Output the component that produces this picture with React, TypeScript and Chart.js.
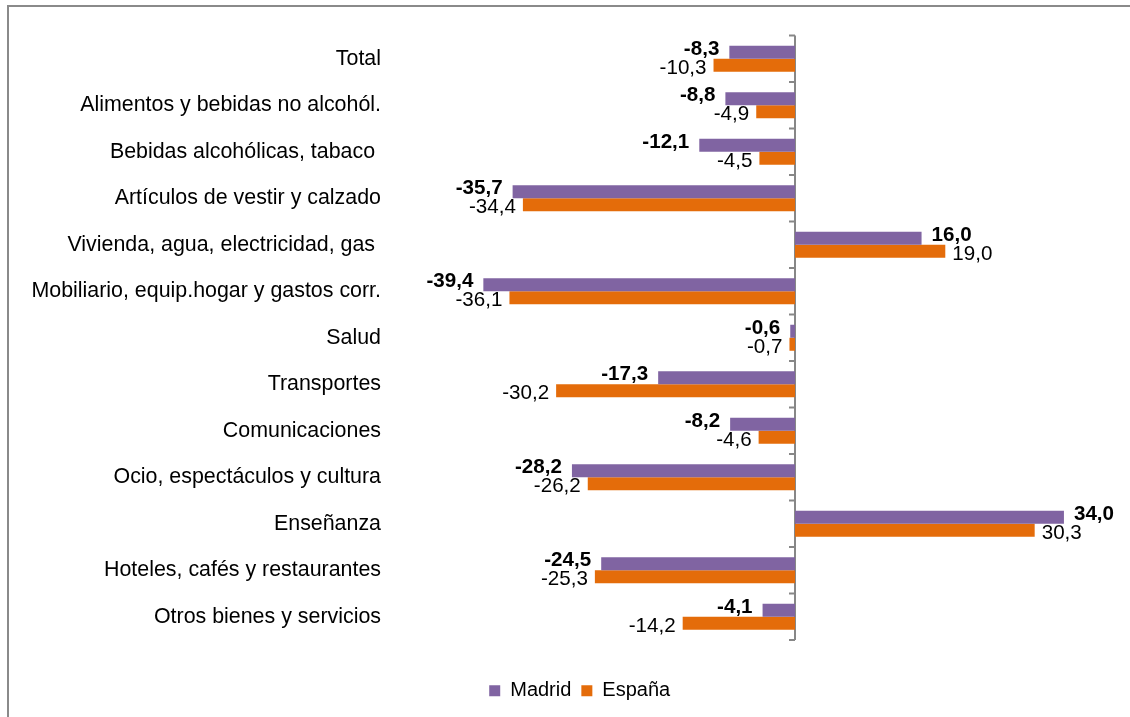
import React, { useEffect, useRef } from "react";
import { Chart, registerables } from "chart.js";

Chart.register(...registerables);

const categories = [
  "Total",
  "Alimentos y bebidas no alcohól.",
  "Bebidas alcohólicas, tabaco ",
  "Artículos de vestir y calzado",
  "Vivienda, agua, electricidad, gas ",
  "Mobiliario, equip.hogar y gastos corr.",
  "Salud",
  "Transportes",
  "Comunicaciones",
  "Ocio, espectáculos y cultura",
  "Enseñanza",
  "Hoteles, cafés y restaurantes",
  "Otros bienes y servicios",
];

const madrid = [-8.3, -8.8, -12.1, -35.7, 16.0, -39.4, -0.6, -17.3, -8.2, -28.2, 34.0, -24.5, -4.1];
const espana = [-10.3, -4.9, -4.5, -34.4, 19.0, -36.1, -0.7, -30.2, -4.6, -26.2, 30.3, -25.3, -14.2];

const seriesNames = ["Madrid", "España"];
const xMin = -50;
const xMax = 40;

const PURPLE = "#8064A2";
const ORANGE = "#E46C0A";
const AXIS_GRAY = "#878787";
const FONT = "'Liberation Sans', Arial, sans-serif";
const LABEL_SIZE = 20.6;
const CAT_SIZE = 21.4;

const fmt = (v: number) => v.toFixed(1).replace(".", ",");

const zeroAxisPlugin = {
  id: "zeroAxis",
  beforeDatasetsDraw(chart: any) {
    const { ctx, chartArea, scales } = chart;
    const x0 = scales.x.getPixelForValue(0);
    const yScale = scales.y;
    ctx.save();
    ctx.strokeStyle = AXIS_GRAY;
    ctx.lineWidth = 2;
    ctx.beginPath();
    ctx.moveTo(x0, chartArea.top);
    ctx.lineTo(x0, chartArea.bottom);
    for (let i = 0; i <= categories.length; i++) {
      const y = yScale.getPixelForValue(i - 0.5);
      ctx.moveTo(x0 - 6, y);
      ctx.lineTo(x0, y);
    }
    ctx.stroke();
    ctx.restore();
  },
};

const valueLabelPlugin = {
  id: "valueLabels",
  afterDatasetsDraw(chart: any) {
    const { ctx } = chart;
    ctx.save();
    chart.data.datasets.forEach((ds: any, di: number) => {
      const meta = chart.getDatasetMeta(di);
      const bold = di === 0;
      ctx.font = `${bold ? "bold " : ""}${LABEL_SIZE}px ${FONT}`;
      ctx.fillStyle = "#000";
      ctx.textBaseline = "middle";
      meta.data.forEach((el: any, i: number) => {
        const v = ds.data[i];
        const gap = bold ? 10 : 7;
        const dy = bold ? -3 : 3;
        if (v < 0) {
          ctx.textAlign = "right";
          ctx.fillText(fmt(v), el.x - gap, el.y + dy);
        } else {
          ctx.textAlign = "left";
          ctx.fillText(fmt(v), el.x + gap, el.y + dy);
        }
      });
    });
    ctx.restore();
  },
};

// shift the legend box so it is centred like the original
const legendShiftPlugin = {
  id: "legendShift",
  afterLayout(chart: any) {
    const lg = chart.legend;
    if (lg) {
      lg.left += 19;
      lg.right += 19;
    }
  },
};

export default function App() {
  const ref = useRef<HTMLCanvasElement | null>(null);

  useEffect(() => {
    if (!ref.current) return;
    Chart.defaults.font.family = FONT;
    const chart = new Chart(ref.current, {
      type: "bar",
      data: {
        labels: categories,
        datasets: [
          {
            label: seriesNames[0],
            data: madrid,
            backgroundColor: PURPLE,
            categoryPercentage: 0.56,
            barPercentage: 1,
          },
          {
            label: seriesNames[1],
            data: espana,
            backgroundColor: ORANGE,
            categoryPercentage: 0.56,
            barPercentage: 1,
          },
        ],
      },
      options: {
        indexAxis: "y",
        animation: false,
        responsive: false,
        devicePixelRatio: 1,
        layout: { padding: { top: 35.5, left: 10, right: 18.6, bottom: 6.3 } },
        scales: {
          x: {
            min: xMin,
            max: xMax,
            display: true,
            grid: { display: false },
            border: { display: false },
            ticks: { display: false },
            afterFit: (s: any) => {
              s.height = 30.7;
            },
          },
          y: {
            grid: { display: false, drawTicks: false },
            border: { display: false },
            ticks: {
              color: "#000",
              padding: 18.5,
              font: { size: CAT_SIZE, family: FONT },
              autoSkip: false,
            },
            afterFit: (s: any) => {
              s.width = 389.5;
            },
          },
        },
        plugins: {
          legend: {
            position: "bottom",
            labels: {
              boxWidth: 11,
              boxHeight: 11,
              padding: 10,
              color: "#000",
              font: { size: 20, family: FONT },
            },
          },
          tooltip: { enabled: false },
        },
      },
      plugins: [zeroAxisPlugin, valueLabelPlugin, legendShiftPlugin],
    });
    return () => chart.destroy();
  }, []);

  return (
    <div
      style={{
        position: "fixed",
        left: 0,
        top: 0,
        width: 1130,
        height: 717,
        background: "#fff",
        overflow: "hidden",
      }}
    >
      <div
        style={{
          position: "absolute",
          left: 7,
          top: 5,
          width: 1200,
          height: 800,
          borderLeft: "2px solid #8a8a8a",
          borderTop: "2px solid #8a8a8a",
        }}
      />
      <canvas
        ref={ref}
        width={1130}
        height={717}
        style={{ position: "absolute", left: 0, top: 0, width: 1130, height: 717 }}
      />
    </div>
  );
}
